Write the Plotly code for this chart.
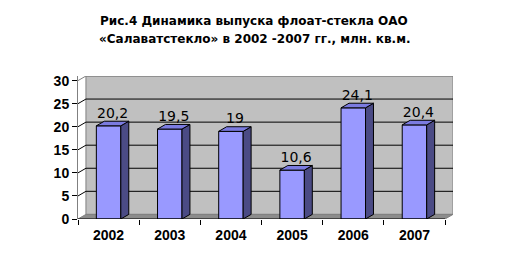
import plotly.graph_objects as go

years = ["2002", "2003", "2004", "2005", "2006", "2007"]
values = [20.2, 19.5, 19, 10.6, 24.1, 20.4]
labels = ["20,2", "19,5", "19", "10,6", "24,1", "20,4"]
yticks = [0, 5, 10, 15, 20, 25, 30]

DX = 0.13   # depth in x units
DY = 1.0    # depth in y units
W = 0.4     # bar width
xs = list(range(len(years)))

fig = go.Figure()

# side and top faces (3D effect)
for x, v in zip(xs, values):
    r = x + W / 2
    l = x - W / 2
    fig.add_trace(go.Scatter(
        x=[r, r + DX, r + DX, r, r], y=[0, DY, v + DY, v, 0],
        fill="toself", fillcolor="#4B4B85", mode="lines",
        line=dict(color="black", width=1), hoverinfo="skip", showlegend=False))
    fig.add_trace(go.Scatter(
        x=[l, l + DX, r + DX, r, l], y=[v, v + DY, v + DY, v, v],
        fill="toself", fillcolor="#7B7BE0", mode="lines",
        line=dict(color="black", width=1), hoverinfo="skip", showlegend=False))

fig.add_trace(go.Bar(
    x=xs, y=values, width=W, marker=dict(color="#9999FF", line=dict(color="black", width=1)),
    showlegend=False, hoverinfo="skip"))

fig.add_trace(go.Scatter(
    x=[x + DX / 2 for x in xs], y=[v + DY for v in values], mode="text",
    text=labels, textposition="top center",
    textfont=dict(family="DejaVu Sans", size=14, color="black"),
    showlegend=False, hoverinfo="skip"))

x0, x1 = -0.5, len(years) - 0.5
shapes = []
# back wall
shapes.append(dict(type="rect", xref="x", yref="y", x0=x0 + DX, x1=x1 + DX, y0=DY, y1=30 + DY,
                   fillcolor="#C0C0C0", line=dict(color="#808080", width=1), layer="below"))
# floor
shapes.append(dict(type="path", xref="x", yref="y",
                   path=f"M {x0},0 L {x0+DX},{DY} L {x1+DX},{DY} L {x1},0 Z",
                   fillcolor="#8C8C8C", line=dict(color="#808080", width=1), layer="below"))
# gridlines
for t in yticks:
    if t == 0:
        continue
    col = "black" if t < 30 else "#808080"
    shapes.append(dict(type="path", xref="x", yref="y",
                       path=f"M {x0},{t} L {x0+DX},{t+DY} L {x1+DX},{t+DY}",
                       line=dict(color=col, width=1), layer="below"))
# front floor edge
shapes.append(dict(type="line", xref="x", yref="y", x0=x0, x1=x1, y0=0, y1=0,
                   line=dict(color="black", width=1), layer="above"))

fig.update_layout(
    width=506, height=265,
    margin=dict(l=78, r=53, t=76, b=46),
    paper_bgcolor="white", plot_bgcolor="white",
    shapes=shapes,
)
plot_w = 506 - 78 - 53
plot_h = 265 - 76 - 46
def px_to_paper(px, py):
    return (px - 78) / plot_w, (265 - 46 - py) / plot_h
for txt, (px, py) in [("<b>Рис.4 Динамика выпуска флоат-стекла ОАО</b>", (254, 21)),
                      ("<b>«Салаватстекло» в 2002 -2007 гг., млн. кв.м.</b>", (255, 39))]:
    ax, ay = px_to_paper(px, py)
    fig.add_annotation(text=txt, x=ax, y=ay, xref="paper", yref="paper",
                       showarrow=False, xanchor="center", yanchor="middle",
                       font=dict(family="DejaVu Sans", size=12, color="black"))

fig.update_xaxes(
    range=[x0, x1 + DX], tickvals=xs, ticktext=years, ticks="",
    showgrid=False, zeroline=False, showline=False, ticklabelstandoff=6,
    tickfont=dict(family="Liberation Sans", size=14, color="black", weight="bold"),
    minor=dict(tickvals=[i - 0.5 for i in range(len(years) + 1)], ticks="outside",
               ticklen=5, tickcolor="black", showgrid=False),
)
fig.update_yaxes(
    range=[0, 30 + DY], tickvals=yticks, ticks="outside", ticklen=5, tickcolor="black",
    showgrid=False, zeroline=False, showline=True, linecolor="#808080",
    tickfont=dict(family="Liberation Sans", size=14, color="black", weight="bold"),
)

fig.write_html("out.html")
